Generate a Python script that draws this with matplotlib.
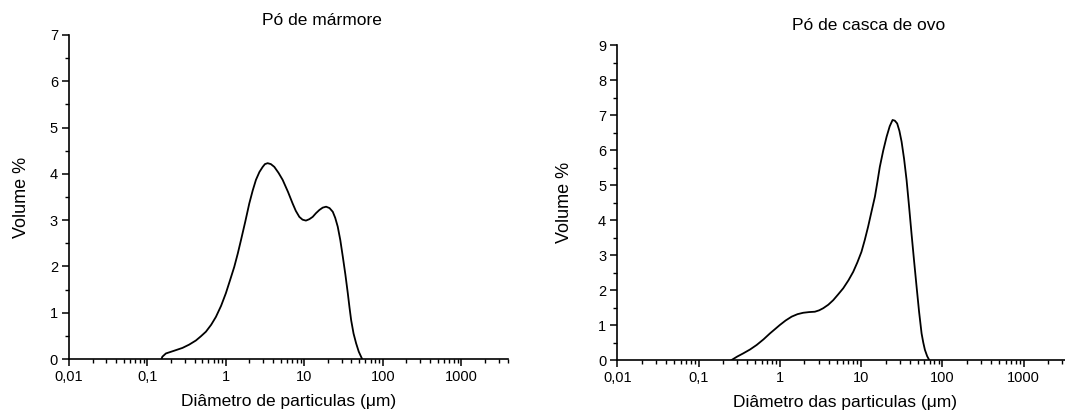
import matplotlib
matplotlib.use("Agg")
import matplotlib.pyplot as plt
from matplotlib.ticker import FixedLocator, LogLocator, MultipleLocator, NullFormatter

plt.rcParams["font.family"] = ["Liberation Sans", "DejaVu Sans"]

# Pó de mármore (diâmetro em µm, volume %)
marble_d = [0.151, 0.155, 0.172, 0.22, 0.28, 0.34, 0.415, 0.48, 0.557, 0.65, 0.747, 0.87,
            1.0, 1.13, 1.28, 1.42, 1.56, 1.77, 1.99, 2.2, 2.42, 2.68, 2.95, 3.15, 3.41,
            3.75, 4.15, 4.7, 5.3, 6.2, 7.1, 7.8, 8.65, 9.5, 10.5, 11.6, 12.8, 14.1, 15.6,
            17.2, 19.0, 21.0, 23.1, 24.8, 26.7, 28.8, 31.0, 33.4, 35.9, 37.7, 39.6, 42.5,
            45.8, 49.5, 53.0, 54.7]
marble_v = [0.0, 0.05, 0.12, 0.18, 0.24, 0.31, 0.40, 0.49, 0.59, 0.74, 0.91, 1.15,
            1.42, 1.70, 1.99, 2.28, 2.57, 2.97, 3.36, 3.64, 3.87, 4.04, 4.15, 4.21, 4.23,
            4.21, 4.15, 4.02, 3.87, 3.61, 3.36, 3.20, 3.07, 3.01, 2.99, 3.02, 3.07, 3.15, 3.22,
            3.27, 3.29, 3.26, 3.18, 3.05, 2.86, 2.57, 2.21, 1.83, 1.42, 1.12, 0.84, 0.55,
            0.34, 0.16, 0.05, 0.0]

# Pó de casca de ovo
egg_d = [0.255, 0.30, 0.355, 0.43, 0.519, 0.63, 0.756, 0.87, 1.0, 1.18, 1.40, 1.65,
         1.94, 2.3, 2.70, 3.05, 3.42, 3.95, 4.54, 5.2, 6.03, 7.0, 8.0, 9.0, 10.1, 11.1,
         12.2, 13.4, 14.8, 15.9, 17.0, 18.7, 20.6, 22.5, 24.4, 26.0, 27.8, 29.6, 31.5,
         33.8, 36.3, 38.9, 41.7, 44.8, 48.2, 51.7, 55.5, 58.2, 61.0, 65.0, 68.9]
egg_v = [0.0, 0.10, 0.19, 0.30, 0.43, 0.59, 0.76, 0.88, 1.0, 1.13, 1.24, 1.31,
         1.35, 1.37, 1.38, 1.42, 1.48, 1.58, 1.71, 1.87, 2.05, 2.28, 2.52, 2.79, 3.09, 3.43,
         3.81, 4.23, 4.67, 5.10, 5.52, 5.98, 6.38, 6.68, 6.86, 6.84, 6.76, 6.55, 6.24,
         5.75, 5.14, 4.40, 3.62, 2.85, 2.09, 1.38, 0.76, 0.50, 0.29, 0.11, 0.0]

xticks = [0.01, 0.1, 1, 10, 100, 1000]
xticklabels = ["0,01", "0,1", "1", "10", "100", "1000"]

fig = plt.figure(figsize=(10.65, 4.16), dpi=100)
ax1 = fig.add_axes([0.0648, 0.137, 0.4125, 0.779])
ax2 = fig.add_axes([0.5796, 0.1346, 0.4275, 0.757])


def style(ax, d, v, ymax, xlabel, ypad):
    ax.plot(d, v, color="black", lw=1.3)
    ax.set_xscale("log")
    ax.set_xlim(0.01, 4000)
    ax.set_ylim(0, ymax)
    ax.xaxis.set_major_locator(FixedLocator(xticks))
    ax.set_xticklabels(xticklabels)
    ax.xaxis.set_minor_locator(LogLocator(base=10, subs=range(2, 10), numticks=20))
    ax.xaxis.set_minor_formatter(NullFormatter())
    ax.yaxis.set_major_locator(MultipleLocator(1))
    ax.yaxis.set_minor_locator(MultipleLocator(0.5))
    for s in ["top", "right"]:
        ax.spines[s].set_visible(False)
    for s in ["left", "bottom"]:
        ax.spines[s].set_linewidth(1.2)
    ax.tick_params(which="major", direction="out", length=5, width=1.1, labelsize=10.5, pad=3)
    ax.tick_params(which="minor", direction="out", length=3, width=1.0)
    ax.set_xlabel(xlabel, fontsize=12.5, labelpad=7)
    ax.set_ylabel("Volume %", fontsize=13, labelpad=ypad)


style(ax1, marble_d, marble_v, 7, "Diâmetro de particulas (μm)", 14)
style(ax2, egg_d, egg_v, 9, "Diâmetro das particulas (μm)", 18)

fig.text(321.5 / 1065, 1 - 20.5 / 416, "Pó de mármore", ha="center", va="center", fontsize=12.5)
fig.text(869 / 1065, 1 - 25.5 / 416, "Pó de casca de ovo", ha="center", va="center", fontsize=12.5)

fig.savefig("out.png", dpi=100)
